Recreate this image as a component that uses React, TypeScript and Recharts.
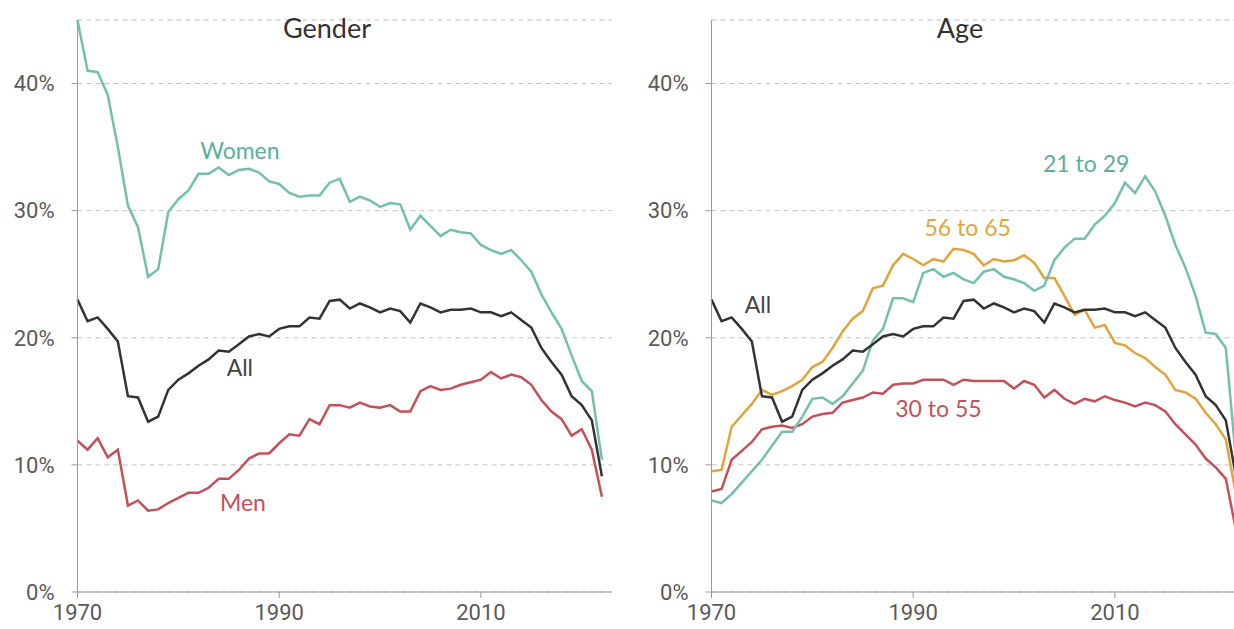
import React from 'react';
import { LineChart, Line, XAxis, YAxis, CartesianGrid, ReferenceDot } from 'recharts';

const YEARS = [
  1970, 1971, 1972, 1973, 1974, 1975, 1976, 1977, 1978, 1979,
  1980, 1981, 1982, 1983, 1984, 1985, 1986, 1987, 1988, 1989,
  1990, 1991, 1992, 1993, 1994, 1995, 1996, 1997, 1998, 1999,
  2000, 2001, 2002, 2003, 2004, 2005, 2006, 2007, 2008, 2009,
  2010, 2011, 2012, 2013, 2014, 2015, 2016, 2017, 2018, 2019,
  2020, 2021, 2022,
];

const WOMEN = [
  45.0, 41.0, 40.9, 39.1, 35.0, 30.4, 28.7, 24.8, 25.4, 29.9,
  30.9, 31.6, 32.9, 32.9, 33.4, 32.8, 33.2, 33.3, 33.0, 32.3,
  32.1, 31.4, 31.1, 31.2, 31.2, 32.2, 32.5, 30.7, 31.1, 30.8,
  30.3, 30.6, 30.5, 28.5, 29.6, 28.8, 28.0, 28.5, 28.3, 28.2,
  27.3, 26.9, 26.6, 26.9, 26.1, 25.2, 23.4, 22.0, 20.7, 18.6,
  16.6, 15.8, 10.4,
];

const ALL = [
  23.0, 21.3, 21.6, 20.7, 19.7, 15.4, 15.3, 13.4, 13.8, 15.9,
  16.7, 17.2, 17.8, 18.3, 19.0, 18.9, 19.5, 20.1, 20.3, 20.1,
  20.7, 20.9, 20.9, 21.6, 21.5, 22.9, 23.0, 22.3, 22.7, 22.4,
  22.0, 22.3, 22.1, 21.2, 22.7, 22.4, 22.0, 22.2, 22.2, 22.3,
  22.0, 22.0, 21.7, 22.0, 21.4, 20.8, 19.2, 18.1, 17.1, 15.4,
  14.7, 13.5, 9.1,
];

const MEN = [
  11.9, 11.2, 12.1, 10.6, 11.2, 6.8, 7.2, 6.4, 6.5, 7.0,
  7.4, 7.8, 7.8, 8.2, 8.9, 8.9, 9.6, 10.5, 10.9, 10.9,
  11.7, 12.4, 12.3, 13.6, 13.2, 14.7, 14.7, 14.5, 14.9, 14.6,
  14.5, 14.7, 14.2, 14.2, 15.8, 16.2, 15.9, 16.0, 16.3, 16.5,
  16.7, 17.3, 16.8, 17.1, 16.9, 16.3, 15.1, 14.2, 13.6, 12.3,
  12.8, 11.2, 7.5,
];

const AGE_21_29 = [
  7.2, 7.0, 7.7, 8.6, 9.5, 10.4, 11.5, 12.6, 12.6, 13.8,
  15.2, 15.3, 14.8, 15.4, 16.4, 17.4, 19.8, 20.7, 23.1, 23.1,
  22.8, 25.1, 25.4, 24.8, 25.1, 24.6, 24.3, 25.2, 25.4, 24.8,
  24.6, 24.3, 23.7, 24.1, 26.1, 27.1, 27.8, 27.8, 28.9, 29.6,
  30.6, 32.2, 31.4, 32.7, 31.5, 29.6, 27.3, 25.5, 23.3, 20.4,
  20.3, 19.2, 10.5,
];

const AGE_30_55 = [
  7.9, 8.1, 10.4, 11.1, 11.8, 12.8, 13.0, 13.1, 12.9, 13.2,
  13.8, 14.0, 14.1, 14.9, 15.1, 15.3, 15.7, 15.6, 16.3, 16.4,
  16.4, 16.7, 16.7, 16.7, 16.3, 16.7, 16.6, 16.6, 16.6, 16.6,
  16.0, 16.6, 16.3, 15.3, 15.9, 15.2, 14.8, 15.2, 15.0, 15.4,
  15.1, 14.9, 14.6, 14.9, 14.7, 14.2, 13.2, 12.4, 11.6, 10.5,
  9.8, 8.9, 4.9,
];

const AGE_56_65 = [
  9.5, 9.6, 13.0, 13.9, 14.8, 15.9, 15.5, 15.8, 16.2, 16.7,
  17.7, 18.1, 19.2, 20.5, 21.5, 22.1, 23.9, 24.1, 25.7, 26.6,
  26.2, 25.7, 26.2, 26.0, 27.0, 26.9, 26.6, 25.7, 26.2, 26.0,
  26.1, 26.5, 25.9, 24.7, 24.7, 23.3, 21.8, 22.2, 20.8, 21.0,
  19.6, 19.4, 18.8, 18.4, 17.7, 17.1, 15.9, 15.7, 15.2, 14.1,
  13.2, 12.0, 7.7,
];

const X_TICKS = [1970, 1990, 2010];
const Y_TICKS = [0, 10, 20, 30, 40];

const TEAL = '#74c0ad';
const TEAL_TEXT = '#5bb09c';
const DARK = '#333333';
const RED = '#c4505a';
const ORANGE = '#e0a63c';

const rows = YEARS.map((year, i) => ({
  year,
  women: WOMEN[i],
  all: ALL[i],
  men: MEN[i],
  a21: AGE_21_29[i],
  a30: AGE_30_55[i],
  a56: AGE_56_65[i],
}));

type Series = { key: string; color: string };
type Note = { text: string; x: number; y: number; color: string };

const genderSeries: Series[] = [
  { key: 'women', color: TEAL },
  { key: 'men', color: RED },
  { key: 'all', color: DARK },
];

const genderNotes: Note[] = [
  { text: 'Women', x: 1986.1, y: 34.7, color: TEAL_TEXT },
  { text: 'All', x: 1986.1, y: 17.6, color: '#444' },
  { text: 'Men', x: 1986.4, y: 7.05, color: RED },
];

const ageSeries: Series[] = [
  { key: 'a30', color: RED },
  { key: 'a56', color: ORANGE },
  { key: 'a21', color: TEAL },
  { key: 'all', color: DARK },
];

const ageNotes: Note[] = [
  { text: 'All', x: 1974.6, y: 22.6, color: '#444' },
  { text: '56 to 65', x: 1995.4, y: 28.65, color: ORANGE },
  { text: '30 to 55', x: 1992.5, y: 14.4, color: RED },
  { text: '21 to 29', x: 2007.15, y: 33.7, color: TEAL_TEXT },
];

const tickStyle = { fill: '#5a5a5a', fontSize: 22, fontFamily: 'Roboto, sans-serif' };

const Panel = ({ series, notes }: { series: Series[]; notes: Note[] }) => (
  <LineChart
    width={640}
    height={629}
    data={rows}
    margin={{ top: 20, right: 28, bottom: 0, left: 0 }}
  >
    <CartesianGrid vertical={false} stroke="#c2c2c2" strokeDasharray="5 4" />
    <XAxis
      dataKey="year"
      type="number"
      domain={[1970, 2023]}
      ticks={X_TICKS}
      height={37}
      stroke="#999"
      tickSize={6}
      tickMargin={6}
      tick={tickStyle}
    />
    <YAxis
      type="number"
      domain={[0, 45]}
      ticks={Y_TICKS}
      width={77.5}
      stroke="#999"
      tickSize={6}
      tickMargin={17}
      tick={tickStyle}
      tickFormatter={(v) => `${v}%`}
    />
    {series.map((s) => (
      <Line
        key={s.key}
        type="linear"
        dataKey={s.key}
        stroke={s.color}
        strokeWidth={2.5}
        dot={false}
        activeDot={false}
        isAnimationActive={false}
      />
    ))}
    {notes.map((n) => (
      <ReferenceDot
        key={n.text}
        x={n.x}
        y={n.y}
        r={0}
        fill="none"
        stroke="none"
        label={{
          value: n.text,
          position: 'center',
          fill: n.color,
          fontSize: 23,
          fontFamily: 'Lato, sans-serif',
        }}
      />
    ))}
  </LineChart>
);

const titleStyle: React.CSSProperties = {
  position: 'absolute',
  top: 14,
  width: 200,
  textAlign: 'center',
  fontSize: 27,
  lineHeight: 1,
  color: '#333',
  fontFamily: 'Lato, sans-serif',
};

export default function App() {
  return (
    <div
      style={{
        position: 'fixed',
        left: 0,
        top: 0,
        width: 1234,
        height: 629,
        overflow: 'hidden',
        background: '#fff',
      }}
    >
      <div style={{ position: 'absolute', left: 0, top: 0 }}>
        <Panel series={genderSeries} notes={genderNotes} />
      </div>
      <div style={{ position: 'absolute', left: 634.2, top: 0 }}>
        <Panel series={ageSeries} notes={ageNotes} />
      </div>
      <div style={{ ...titleStyle, left: 227 }}>Gender</div>
      <div style={{ ...titleStyle, left: 860 }}>Age</div>
    </div>
  );
}
